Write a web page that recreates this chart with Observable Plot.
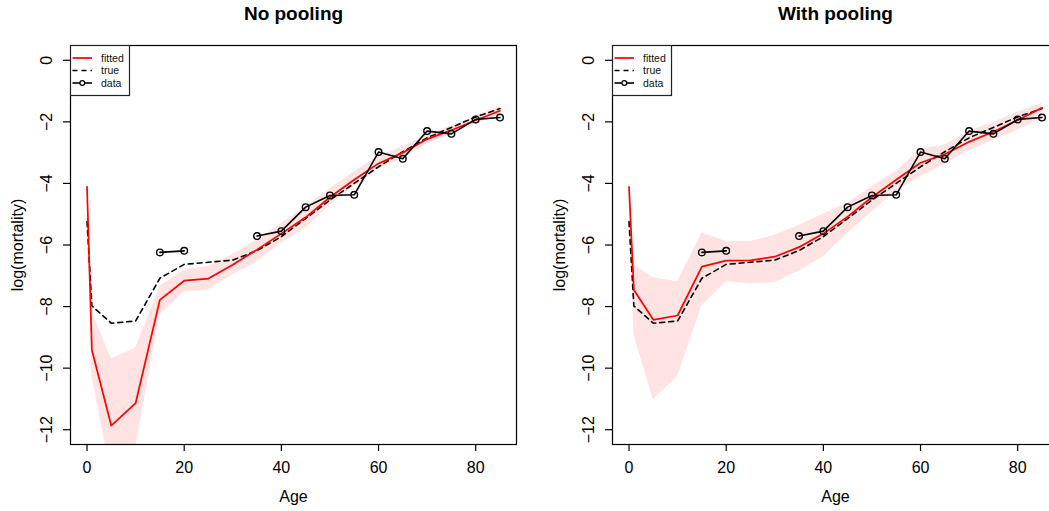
<!DOCTYPE html>
<html><head><meta charset="utf-8">
<script src="https://cdn.jsdelivr.net/npm/d3@7"></script>
<script src="https://cdn.jsdelivr.net/npm/@observablehq/plot@0.6"></script>
<style>
html,body{margin:0;padding:0;background:#fff;}
body{width:1049px;height:511px;overflow:hidden;position:relative;font-family:"Liberation Sans",Arial,Helvetica,sans-serif;}
.panel{position:absolute;top:0;width:524px;height:511px;}
.legend{position:absolute;left:70px;top:45px;}
</style></head><body>
<div id="p1" class="panel" style="left:0px"></div>
<div id="p2" class="panel" style="left:542px"></div>
<script>
const ages = [0, 1, 5, 10, 15, 20, 25, 30, 35, 40, 45, 50, 55, 60, 65, 70, 75, 80, 85];
const trueVals = [-5.24, -7.98, -8.54, -8.47, -7.08, -6.63, -6.56, -6.49, -6.18, -5.73, -5.14, -4.54, -4.00, -3.46, -2.97, -2.52, -2.18, -1.84, -1.57];
const dataVals = [null, null, null, null, -6.24, -6.19, null, null, -5.71, -5.55, -4.77, -4.39, -4.37, -2.98, -3.20, -2.30, -2.39, -1.92, -1.86];
const fittedNo = [-4.11, -9.41, -11.87, -11.14, -7.78, -7.16, -7.09, -6.64, -6.15, -5.63, -5.10, -4.45, -3.88, -3.35, -3.00, -2.56, -2.27, -1.95, -1.64];
const lowerNo = [-4.25, -10.27, -13.48, -12.60, -8.27, -7.53, -7.46, -6.97, -6.54, -5.95, -5.45, -4.72, -4.12, -3.55, -3.18, -2.72, -2.40, -2.07, -1.78];
const upperNo = [-3.95, -8.16, -9.70, -9.35, -7.35, -6.80, -6.70, -6.30, -5.84, -5.30, -4.75, -4.18, -3.62, -3.12, -2.82, -2.40, -2.13, -1.83, -1.50];
const fittedPool = [-4.11, -7.46, -8.43, -8.29, -6.70, -6.51, -6.50, -6.38, -6.07, -5.63, -5.08, -4.45, -3.88, -3.33, -3.05, -2.65, -2.32, -1.95, -1.54];
const lowerPool = [-4.30, -8.92, -11.03, -10.27, -7.98, -7.19, -7.26, -7.23, -6.85, -6.38, -5.63, -4.92, -4.25, -3.78, -3.37, -2.95, -2.60, -2.27, -1.89];
const upperPool = [-3.85, -6.65, -7.06, -7.19, -5.60, -5.89, -5.89, -5.68, -5.37, -4.99, -4.64, -4.10, -3.62, -2.88, -2.76, -2.30, -2.02, -1.68, -1.40];
const xTicks = [0, 20, 40, 60, 80];
const yTicks = [0, -2, -4, -6, -8, -10, -12];
const titles = ["No pooling", "With pooling"];
const legendLabels = ["fitted", "true", "data"];
const xLabel = "Age";
const yLabel = "log(mortality)";

const FONT = '"Liberation Sans", Arial, Helvetica, sans-serif';
const fmt = d => d < 0 ? "\u2212" + Math.abs(d) : String(d);

function panel(title, fitted, lower, upper) {
  const rows = ages.map((a, i) => ({age: a, fitted: fitted[i], lower: lower[i], upper: upper[i], truth: trueVals[i], data: dataVals[i]}));
  return Plot.plot({
    width: 524, height: 511,
    marginLeft: 70, marginRight: 8, marginTop: 45, marginBottom: 67,
    x: {domain: [-3.4, 88.4]},
    y: {domain: [-12.48, 0.48]},
    style: {fontFamily: FONT, background: "white", overflow: "visible", color: "black"},
    marks: [
      Plot.areaY(rows, {x: "age", y1: "lower", y2: "upper", fill: "#ff0000", fillOpacity: 0.11, clip: true}),
      Plot.line(rows, {x: "age", y: "truth", stroke: "black", strokeWidth: 1.6, strokeDasharray: "5,4"}),
      Plot.line(rows, {x: "age", y: "fitted", stroke: "#ff0000", strokeWidth: 1.7}),
      Plot.line(rows, {x: "age", y: "data", stroke: "black", strokeWidth: 1.6}),
      Plot.dot(rows, {x: "age", y: "data", r: 3.3, stroke: "black", strokeWidth: 1.4, fill: "none"}),
      Plot.frame({stroke: "black", strokeWidth: 1.2}),
      Plot.axisX({ticks: xTicks, tickSize: 7, tickFormat: () => "", label: null, strokeWidth: 1.2}),
      Plot.axisY({ticks: yTicks, tickSize: 7, tickFormat: () => "", label: null, strokeWidth: 1.2}),
      Plot.text(xTicks, {x: d => d, frameAnchor: "bottom", dy: 23.5, text: d => String(d), fontSize: 16, textAnchor: "middle", lineAnchor: "middle", fill: "black"}),
      Plot.text(yTicks, {y: d => d, frameAnchor: "left", dx: -24, rotate: -90, text: fmt, fontSize: 16, textAnchor: "middle", lineAnchor: "middle", fill: "black"}),
      Plot.text([title], {frameAnchor: "top", dy: -31.5, text: d => d, fontWeight: "bold", fontSize: 19, textAnchor: "middle", lineAnchor: "middle", fill: "black"}),
      Plot.text([xLabel], {frameAnchor: "bottom", dy: 52, text: d => d, fontSize: 16, textAnchor: "middle", lineAnchor: "middle", fill: "black"}),
      Plot.text([yLabel], {frameAnchor: "left", dx: -53, rotate: -90, text: d => d, fontSize: 16, textAnchor: "middle", lineAnchor: "middle", fill: "black"})
    ]
  });
}

function legend() {
  const ys = [13, 25.5, 38];
  return `<svg class="legend" width="61" height="52" xmlns="http://www.w3.org/2000/svg" style="font-family:${FONT.replace(/"/g, "'")}">
    <rect x="0.5" y="0.5" width="59" height="50" fill="white" stroke="#222" stroke-width="1.2"/>
    <line x1="2.5" x2="22" y1="${ys[0]}" y2="${ys[0]}" stroke="#ff0000" stroke-width="1.7"/>
    <line x1="2.5" x2="22" y1="${ys[1]}" y2="${ys[1]}" stroke="black" stroke-width="1.6" stroke-dasharray="5,4"/>
    <line x1="2.5" x2="22" y1="${ys[2]}" y2="${ys[2]}" stroke="black" stroke-width="1.6"/>
    <circle cx="12.3" cy="${ys[2]}" r="2.4" fill="white" stroke="black" stroke-width="1.3"/>
    ${legendLabels.map((t, i) => `<text x="31" y="${ys[i]}" dy="0.35em" font-size="10.5" fill="#111">${t}</text>`).join("")}
  </svg>`;
}

const p1 = document.getElementById("p1");
p1.appendChild(panel(titles[0], fittedNo, lowerNo, upperNo));
p1.insertAdjacentHTML("beforeend", legend());
const p2 = document.getElementById("p2");
p2.appendChild(panel(titles[1], fittedPool, lowerPool, upperPool));
p2.insertAdjacentHTML("beforeend", legend());
</script>
</body></html>
